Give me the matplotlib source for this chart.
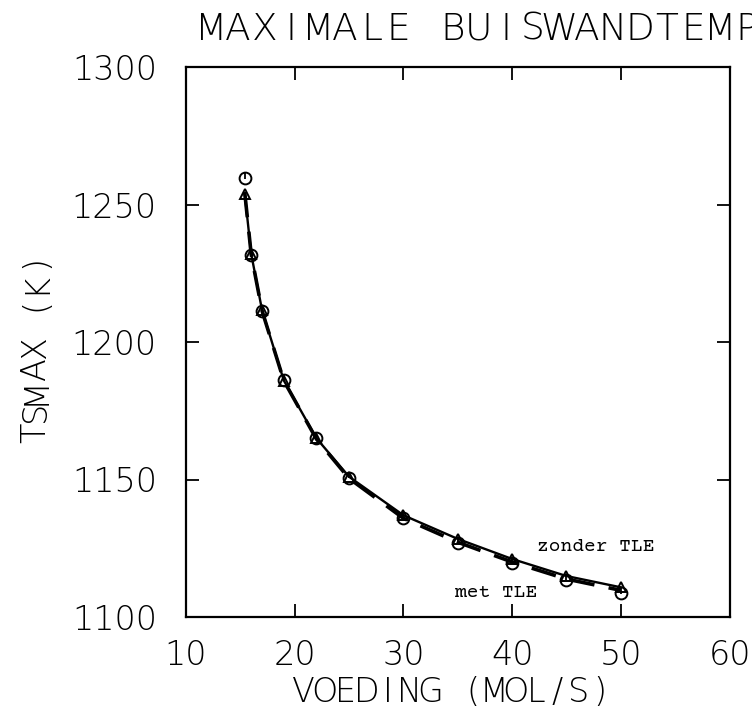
import matplotlib
matplotlib.use("Agg")
import matplotlib.pyplot as plt

# ----------------------------
# data
# ----------------------------
feed = [15.4, 16, 17, 19, 22, 25, 30, 35, 40, 45, 50]
# zonder TLE (triangles, solid curve)
t_zonder = [1254, 1232, 1211.5, 1186, 1165, 1151, 1137, 1128.4, 1121.1, 1114.9, 1110.8]
# met TLE (circles)
t_met = [1259.5, 1231.6, 1211.4, 1186.2, 1165, 1150.5, 1135.9, 1126.8, 1119.7, 1113.5, 1108.6]
# met TLE dashed curve, runs just under the solid one
t_met_curve = [1254.5, 1231.8, 1211.3, 1185.9, 1164.7, 1150.4, 1135.9, 1127.2, 1120.0, 1113.8, 1109.7]

x_ticks = [10, 20, 30, 40, 50, 60]
y_ticks = [1100, 1150, 1200, 1250, 1300]

title = "MAXIMALE BUISWANDTEMPERATUUR"
xlabel = "VOEDING (MOL/S)"
ylabel = "TSMAX (K)"

W, H = 752, 711
plot_font = "DejaVu Sans"   # extra-light weight looks like the pen-plotter lettering
label_font = ["Courier Prime", "Liberation Mono"]


def spaced_text(fig, x0, base, s, pitch, size, vertical=False):
    """Write s one char at a time with a fixed pitch (pixels from top-left)."""
    for i, ch in enumerate(s):
        if ch == " ":
            continue
        if vertical:
            fig.text(base / W, 1 - (x0 - i * pitch) / H, ch, rotation=90,
                     rotation_mode="anchor", ha="center", va="baseline",
                     fontfamily=plot_font, fontweight=200, fontsize=size)
        else:
            x = x0 + i * pitch
            if x - pitch / 2 > W:
                # the reference title runs off the page too
                break
            fig.text(x / W, 1 - base / H, ch,
                     ha="center", va="baseline",
                     fontfamily=plot_font, fontweight=200, fontsize=size)


fig = plt.figure(figsize=(W / 100, H / 100), dpi=100)
ax = fig.add_axes([186 / W, 1 - 617 / H, 543.5 / W, 550 / H])

# zonder TLE: solid line with open triangles
ax.plot(feed, t_zonder, color="black", lw=1.7, zorder=3)
ax.plot(feed, t_zonder, linestyle="none", marker="^", ms=7,
        mfc="none", mec="black", mew=1.4, zorder=4)

# met TLE: thick dashed line with open circles
ax.plot(feed, t_met_curve, color="black", lw=2.6, dashes=(7, 4), zorder=2)
ax.plot(feed, t_met, linestyle="none", marker="o", ms=8.5,
        mfc="none", mec="black", mew=1.4, zorder=4)
ax.plot(feed, [t + 1.0 for t in t_met], linestyle="none", marker="|", ms=4,
        mec="black", mew=1.3, zorder=4)

ax.text(42.3, 1125.5, "zonder TLE", fontfamily=label_font, fontsize=14,
        va="center", ha="left")
ax.text(34.75, 1108.7, "met TLE", fontfamily=label_font, fontsize=14,
        va="center", ha="left")

ax.set_xlim(10, 60)
ax.set_ylim(1100, 1300)
ax.set_xticks(x_ticks)
ax.set_yticks(y_ticks)
ax.set_xticklabels([str(v) for v in x_ticks], fontfamily=plot_font,
                   fontweight=200, fontsize=24)
ax.set_yticklabels([str(v) for v in y_ticks], fontfamily=plot_font,
                   fontweight=200, fontsize=24)
ax.tick_params(direction="in", length=9.5, width=1.3, top=True, right=True)
ax.tick_params(axis="x", pad=16)
ax.tick_params(axis="y", pad=21)
for sp in ax.spines.values():
    sp.set_linewidth(1.6)

# axis labels and title in fixed-pitch plotter style
spaced_text(fig, 303, 702, xlabel, 21.2, 24)
spaced_text(fig, 433, 45, ylabel, 21.4, 24, vertical=True)
spaced_text(fig, 211, 40, title, 26.8, 27)

fig.savefig("out.png", dpi=100)
